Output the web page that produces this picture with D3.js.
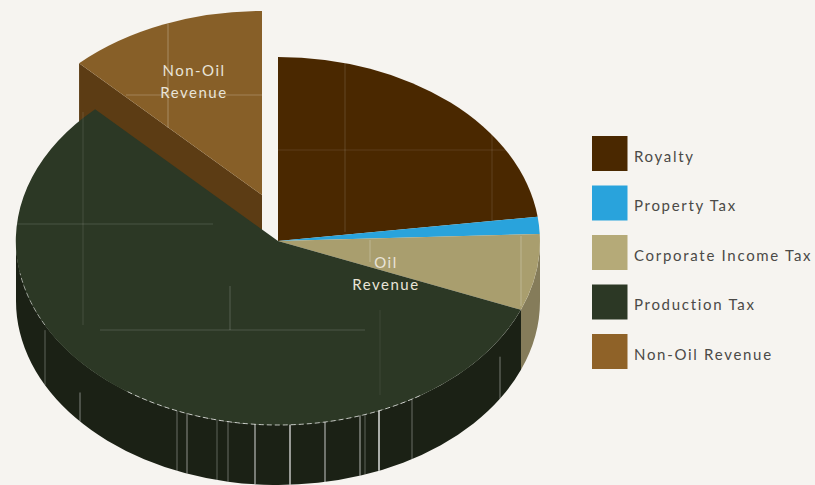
<!DOCTYPE html>
<html>
<head>
<meta charset="utf-8">
<script src="https://cdn.jsdelivr.net/npm/d3@7/dist/d3.min.js"></script>
<style>
  html, body { margin: 0; padding: 0; background: #f6f4f0; }
  svg { display: block; }
  text { font-family: Lato, "Open Sans", sans-serif; }
</style>
</head>
<body>
<script>
// Revenue shares, in percent
const categories = ["Royalty", "Property Tax", "Corporate Income Tax", "Production Tax", "Non-Oil Revenue"];
const shares = [22.9, 1.5, 6.7, 56.6, 12.3];

// Colours
const topColours = ["#4a2800", "#29a3dc", "#a99e6e", "#2c3825", "#875f28"];
const wallColours = ["#3a2000", "#1f7ea8", "#857c5a", "#1b2115", "#5c3c14"];
const legendColours = ["#4a2800", "#29a3dc", "#b5aa78", "#2c3825", "#8f6228"];

const width = 815, height = 485;
const cx = 278, cy = 241, rx = 262, ry = 184, depth = 60;
const detached = "Non-Oil Revenue";
const detachOffset = [-16, -46];

const svg = d3.select("body").append("svg").attr("width", width).attr("height", height);
svg.append("rect").attr("width", width).attr("height", height).attr("fill", "#f6f4f0");

const topColour = d3.scaleOrdinal(categories, topColours);
const wallColour = d3.scaleOrdinal(categories, wallColours);
const legendColour = d3.scaleOrdinal(categories, legendColours);

const rows = categories.map((name, i) => ({ name, share: shares[i] }));
const slices = d3.pie().sort(null).value(d => d.share)(rows);

// A point on the tilted rim; the angle runs clockwise from twelve o'clock.
const rim = (a, dx = 0, dy = 0) => [cx + dx + rx * Math.sin(a), cy + dy - ry * Math.cos(a)];

// Top faces are ordinary arcs, squashed into the tilted plane.
const arc = d3.arc().innerRadius(0).outerRadius(1);

function wallPath(s) {
  // Only the front half of the rim faces the viewer.
  const a0 = Math.max(s.startAngle, Math.PI / 2);
  const a1 = Math.min(s.endAngle, Math.PI * 1.5);
  if (a1 <= a0) return null;
  const p0 = rim(a0), p1 = rim(a1);
  const large = a1 - a0 > Math.PI ? 1 : 0;
  return `M${p0}A${rx},${ry} 0 ${large} 1 ${p1}` +
         `L${p1[0]},${p1[1] + depth}A${rx},${ry} 0 ${large} 0 ${p0[0]},${p0[1] + depth}Z`;
}

function detachedWalls(s) {
  const [dx, dy] = detachOffset;
  const v = rim(s.startAngle, dx, dy);
  const apex = [cx + dx, cy + dy];
  return `M${v}L${apex}L${apex[0]},${apex[1] + depth}L${v[0]},${v[1] + depth}Z`;
}

const chart = svg.append("g");

// The detached wedge sits behind everything else.
const loose = slices.find(s => s.data.name === detached);
chart.append("path").attr("d", detachedWalls(loose)).attr("fill", wallColour(detached));
chart.append("path")
  .attr("d", arc(loose))
  .attr("fill", topColour(detached))
  .attr("transform", `translate(${cx + detachOffset[0]},${cy + detachOffset[1]}) scale(${rx},${ry})`);

const seated = slices.filter(s => s.data.name !== detached);

chart.selectAll("path.wall").data(seated.filter(wallPath)).join("path")
  .attr("class", "wall")
  .attr("d", wallPath)
  .attr("fill", d => wallColour(d.data.name));

chart.selectAll("path.face").data(seated).join("path")
  .attr("class", "face")
  .attr("d", arc)
  .attr("fill", d => topColour(d.data.name))
  .attr("transform", `translate(${cx},${cy}) scale(${rx},${ry})`);

// Hairline panel joins on the faces: [x1, y1, x2, y2, opacity]
const faceJoins = [
  [345, 62, 345, 232, 0.14], [278, 150, 535, 150, 0.1], [492, 118, 492, 222, 0.12],
  [168, 24, 168, 128, 0.28], [126, 95, 262, 95, 0.22],
  [370, 240, 370, 262, 0.25], [521, 236, 521, 306, 0.25],
  [83, 112, 83, 325, 0.12], [16, 224, 213, 224, 0.14],
  [100, 330, 365, 330, 0.16], [230, 286, 230, 330, 0.2], [380, 310, 380, 395, 0.08]
];
chart.selectAll("line.join").data(faceJoins).join("line")
  .attr("class", "join")
  .attr("x1", d => d[0]).attr("y1", d => d[1]).attr("x2", d => d[2]).attr("y2", d => d[3])
  .attr("stroke", "#fff").attr("stroke-opacity", d => d[4]).attr("stroke-width", 1);

// Vertical joins down the front wall: [x, opacity, width, start below the rim]
const wallJoins = [
  [45, 0.3, 1, 5], [80, 0.45, 1, 31], [177, 0.35, 1, 0], [187, 0.5, 1, 0], [217, 0.3, 1, 0], [228, 0.35, 1, 0],
  [255, 0.55, 1.5, 0], [290, 0.55, 2, 0], [325, 0.5, 1.5, 0], [360, 0.45, 1.5, 0], [365, 0.3, 1, 0],
  [379, 0.85, 1.5, 0], [412, 0.35, 1, 0], [500, 0.4, 1, 18]
];
const rimY = x => cy + ry * Math.sqrt(1 - ((x - cx) / rx) ** 2);
chart.selectAll("line.wall-join").data(wallJoins).join("line")
  .attr("class", "wall-join")
  .attr("x1", d => d[0]).attr("x2", d => d[0])
  .attr("y1", d => rimY(d[0]) + d[3])
  .attr("y2", d => rimY(d[0]) + depth)
  .attr("stroke", "#fff").attr("stroke-opacity", d => d[1]).attr("stroke-width", d => d[2]);

// Dashed highlight along the front rim
const rimStretches = [[Math.PI * 0.818, Math.PI * 1.198, 0.7], [Math.PI * 1.349, Math.PI * 1.444, 0.5]];
chart.selectAll("path.rim").data(rimStretches).join("path")
  .attr("class", "rim")
  .attr("d", d => {
    const p0 = rim(d[0]), p1 = rim(d[1]);
    return `M${p0}A${rx},${ry} 0 0 1 ${p1}`;
  })
  .attr("fill", "none").attr("stroke", "#fff").attr("stroke-opacity", d => d[2])
  .attr("stroke-width", 1).attr("stroke-dasharray", "5 3");

// Wedge captions
const captions = [
  { lines: ["Non-Oil", "Revenue"], x: 194, y: 71 },
  { lines: ["Oil", "Revenue"], x: 386, y: 263 }
];
captions.forEach(c => {
  svg.append("g").selectAll("text").data(c.lines).join("text")
    .attr("x", c.x)
    .attr("y", (d, i) => c.y + i * 22)
    .attr("dy", "0.35em")
    .attr("text-anchor", "middle")
    .attr("font-size", 15)
    .attr("letter-spacing", 1.5)
    .attr("fill", "#e9e4d8")
    .text(d => d);
});

// Legend
const legendRow = d3.scalePoint().domain(categories).range([136, 334]);
const legend = svg.append("g").selectAll("g").data(categories).join("g")
  .attr("transform", d => `translate(592,${legendRow(d)})`);
legend.append("rect")
  .attr("width", 35.5).attr("height", 35)
  .attr("fill", d => legendColour(d));
legend.append("text")
  .attr("x", 42).attr("y", 21)
  .attr("dy", "0.3em")
  .attr("font-size", 15)
  .attr("letter-spacing", 1.7)
  .attr("fill", "#4b4a47")
  .text(d => d);
</script>
</body>
</html>
